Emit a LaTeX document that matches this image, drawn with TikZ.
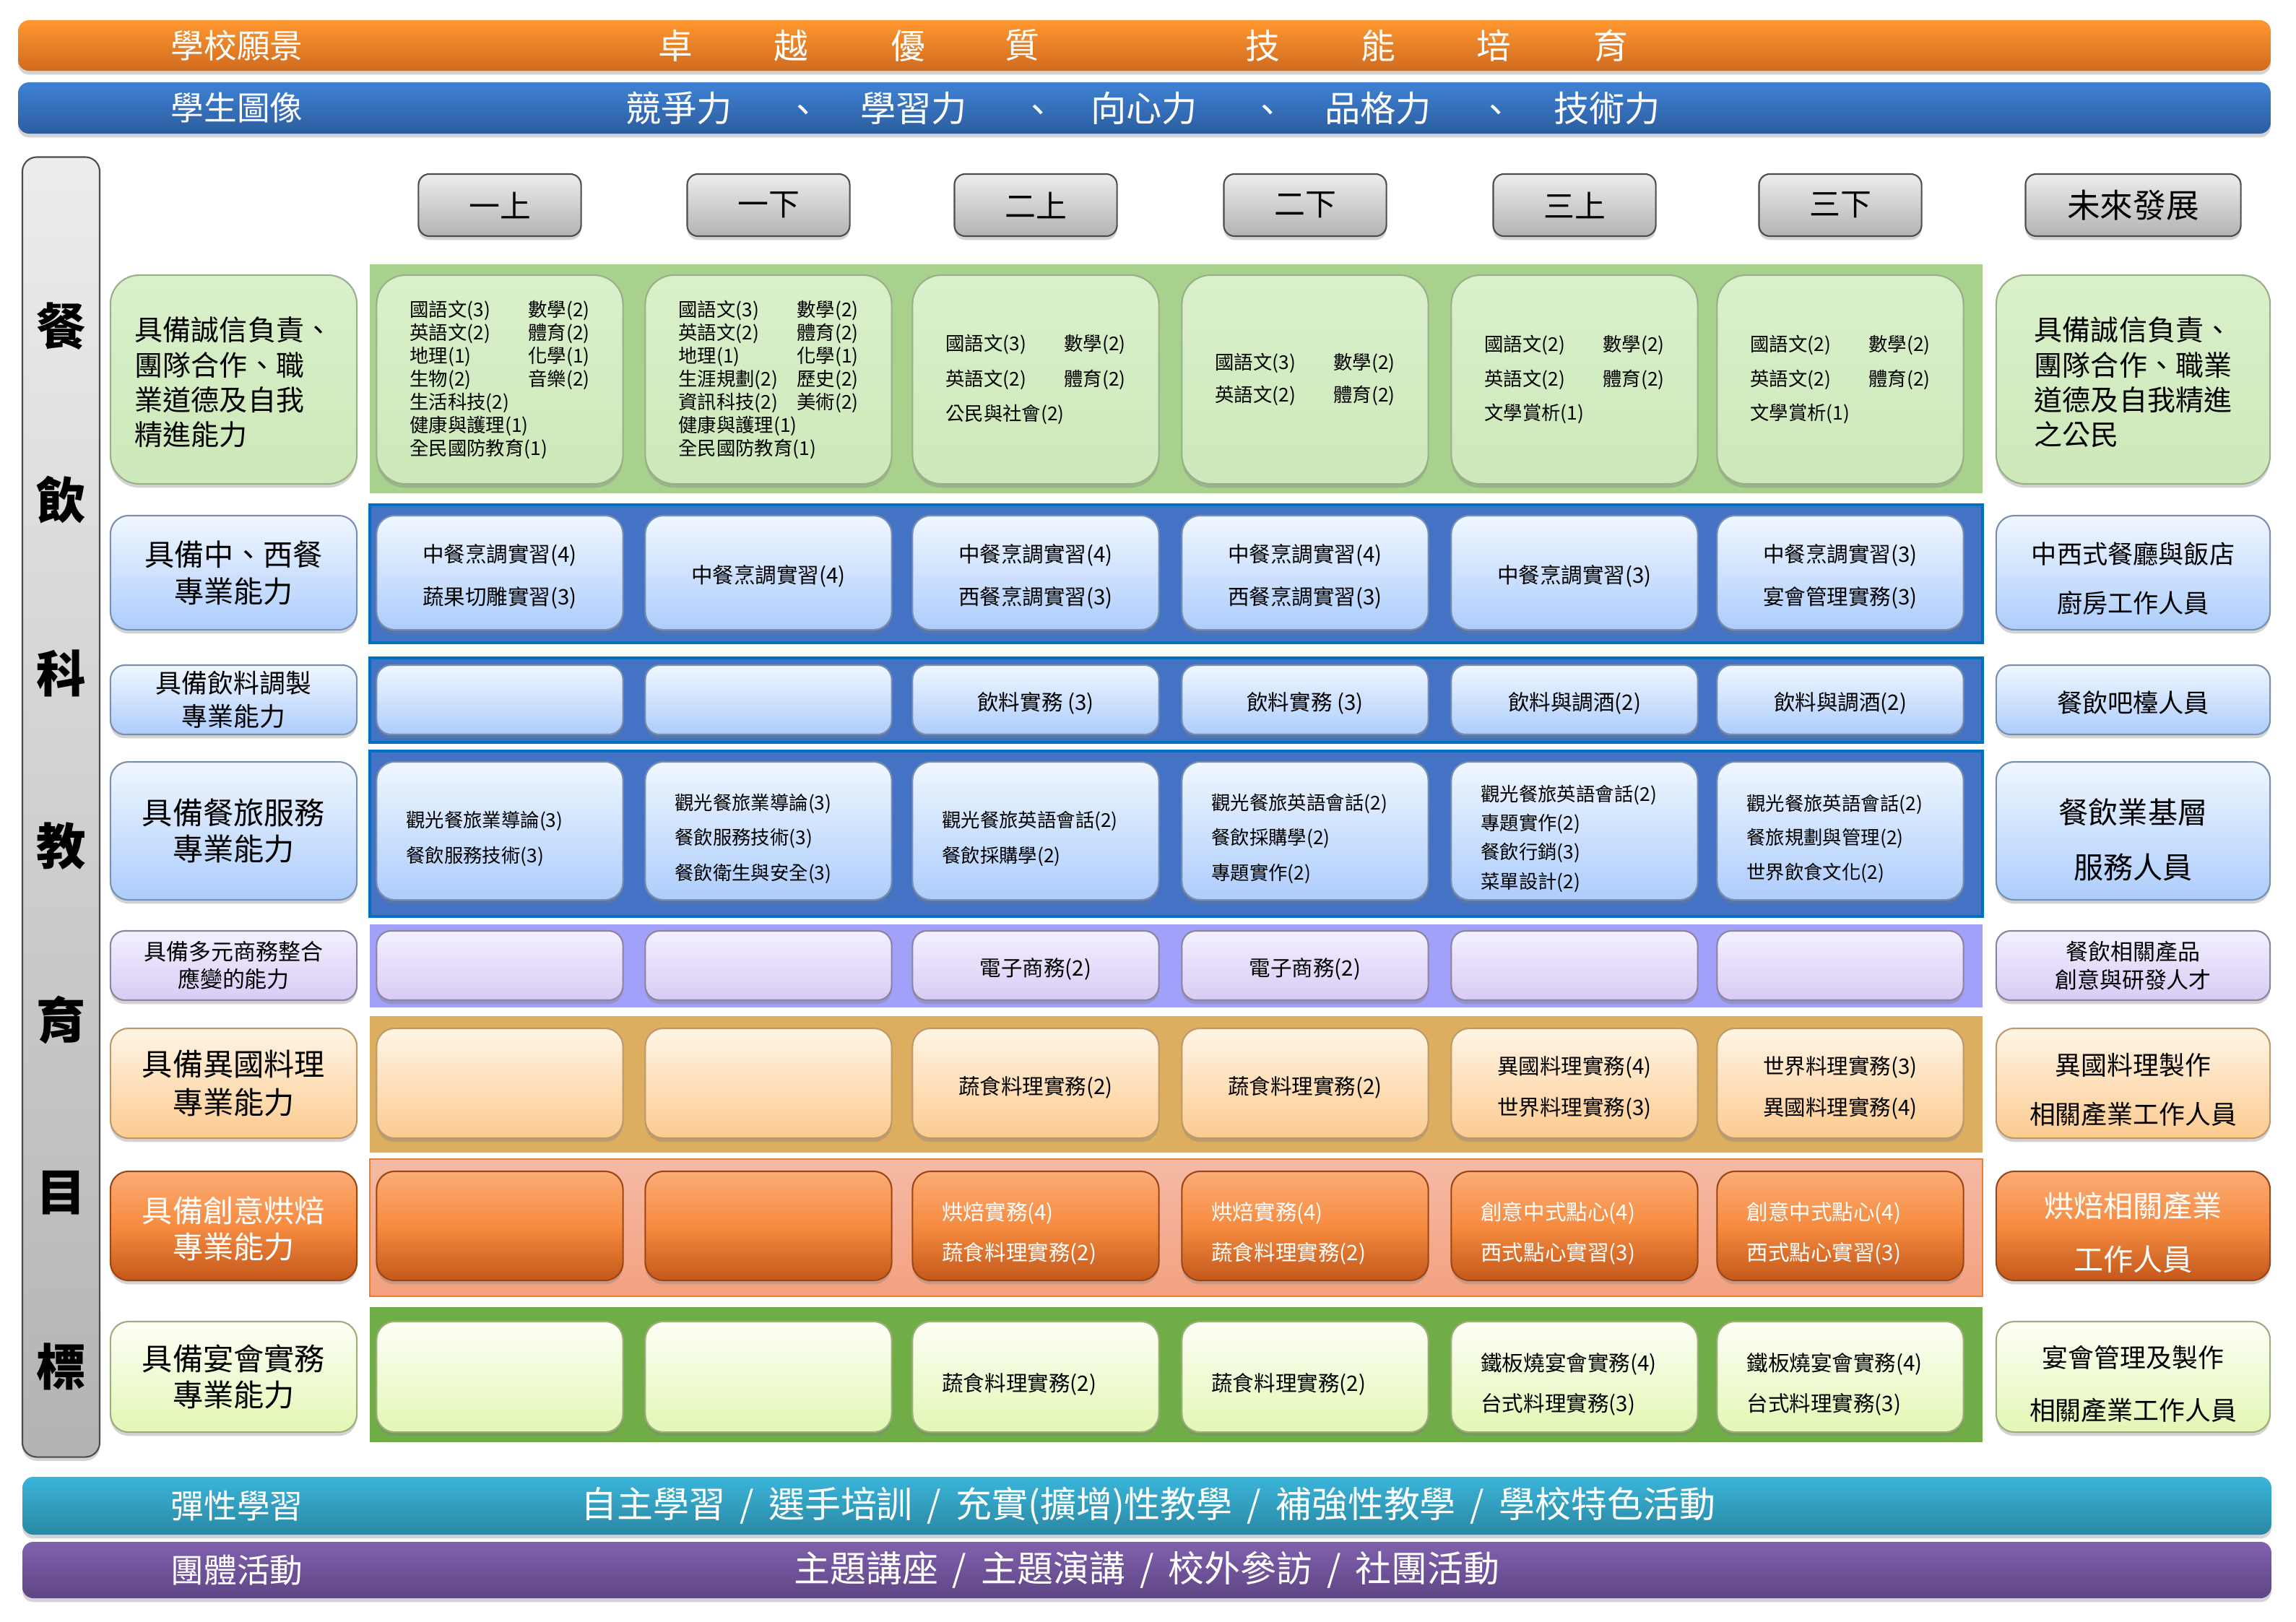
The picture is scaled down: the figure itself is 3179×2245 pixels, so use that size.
\documentclass[tikz,border=0pt]{standalone}
\usepackage{fontspec}
\setmainfont{Noto Sans CJK TC}
\usetikzlibrary{shadows}

% colours of bars and rows
\definecolor{visionA}{HTML}{FF972F}
\definecolor{visionB}{HTML}{D06B1F}
\definecolor{portraitA}{HTML}{3F82D5}
\definecolor{portraitB}{HTML}{2C5D9F}
\definecolor{flexA}{HTML}{3AB5DA}
\definecolor{flexB}{HTML}{2A88A3}
\definecolor{groupA}{HTML}{8061AE}
\definecolor{groupB}{HTML}{5F4585}
\definecolor{greyA}{HTML}{EDEDED}
\definecolor{greyB}{HTML}{B3B3B3}
\definecolor{basicbg}{HTML}{A9D18E}
\definecolor{basicA}{HTML}{DAF0CB}
\definecolor{basicB}{HTML}{CDE8B9}
\definecolor{skybg}{HTML}{4472C4}
\definecolor{skyline}{HTML}{0070C0}
\definecolor{skyA}{HTML}{F0F7FF}
\definecolor{skyB}{HTML}{ADCDFC}
\definecolor{lilacbg}{HTML}{A1A1F9}
\definecolor{lilacA}{HTML}{F4F0FF}
\definecolor{lilacB}{HTML}{D7CBF5}
\definecolor{tanbg}{HTML}{DEAE60}
\definecolor{peachA}{HTML}{FFF5E5}
\definecolor{peachB}{HTML}{FCCB90}
\definecolor{salmonA}{HTML}{F5BAA5}
\definecolor{salmonB}{HTML}{F4A17F}
\definecolor{salmonline}{HTML}{ED7D31}
\definecolor{bakeA}{HTML}{FBAC76}
\definecolor{bakeM}{HTML}{F68B40}
\definecolor{bakeB}{HTML}{C3581A}
\definecolor{greenbg}{HTML}{70AD47}
\definecolor{limeA}{HTML}{FEFFF7}
\definecolor{limeB}{HTML}{E2F7B4}

\newcommand\fs[2]{\fontsize{#1}{#2}\selectfont}
\newcommand\subj[2]{\makebox[1.64cm][l]{#1}#2}
\newcommand\slashsep{\hspace{0.4em}/\hspace{0.4em}}
\newcommand\lift[1]{\rule{0pt}{#1}}

\tikzset{
  tile/.style={rectangle, inner sep=0pt, rounded corners=0.25cm, line width=0.6pt,
    drop shadow={shadow xshift=0pt, shadow yshift=-1.5pt, opacity=0.35}},
  cell/.style={tile, minimum width=3.41cm},
  goal/.style={tile, minimum width=3.41cm, align=center},
  job/.style={tile, minimum width=3.79cm, align=center},
  bar/.style={tile, rounded corners=0.15cm, minimum width=31.17cm},
  bartext/.style={text=white},
  grade/.style={tile, rounded corners=0.15cm, minimum height=0.86cm, minimum width=2.25cm,
    top color=greyA, bottom color=greyB, draw=black!70, font=\fs{12.2pt}{13pt}},
  basiccell/.style={top color=basicA, bottom color=basicB, draw=basicB!75!black, rounded corners=0.4cm},
  skycell/.style={top color=skyA, bottom color=skyB, draw=skyB!70!black},
  lilaccell/.style={top color=lilacA, bottom color=lilacB, draw=lilacB!65!black},
  peachcell/.style={top color=peachA, bottom color=peachB, draw=peachB!75!black},
  bakecell/.style={top color=bakeA, bottom color=bakeB, middle color=bakeM, draw=bakeB!80!black, text=white},
  limecell/.style={top color=limeA, bottom color=limeB, draw=limeB!70!black}
}

\begin{document}
\begin{tikzpicture}[x=0.01cm, y=-0.01cm]
    \useasboundingbox (0,0) rectangle (3179,2245);

    % vision and portrait bars
    \node[bar, top color=visionA, bottom color=visionB, minimum height=0.70cm] (visionbar) at (1584.5,63) {};
    \node[bartext, font=\fs{13pt}{14pt}] (vision) at (328,63) {學校願景};
    \foreach \x/\ch [count=\i] in {935/卓,1095/越,1257/優,1415/質,1748/技,1908/能,2068/培,2230/育}{
        \node[bartext, font=\fs{13.6pt}{14pt}] (v\i) at (\x,63) {\ch};
    }
    \node[bar, top color=portraitA, bottom color=portraitB, minimum height=0.71cm] (portraitbar) at (1584.5,149.5) {};
    \node[bartext, font=\fs{13pt}{14pt}] (portrait) at (328,149.5) {學生圖像};
    \foreach \x/\w [count=\i] in {940/競爭力,1265/學習力,1584/向心力,1908/品格力,2225/技術力}{
        \node[bartext, font=\fs{14pt}{15pt}] (p\i) at (\x,149.5) {\w};
    }
    \foreach \x [count=\i] in {1112,1437,1755,2071}{
        \node[bartext, font=\fs{14pt}{15pt}] (comma\i) at (\x,158) {、};
    }

    % aim column
    \node[tile, rounded corners=0.2cm, minimum width=1.07cm, minimum height=17.99cm,
        top color=greyA, bottom color=greyB, draw=black!70] (aimbar) at (84.5,1117.5) {};
    \foreach \ch [count=\i] in {餐,飲,科,教,育,目,標}{
        \node[font=\fs{19.5pt}{20pt}\bfseries] (aim\i) at (84.5,{452+240*(\i-1)}) {\ch};
    }

    % grade heads
    \foreach \x/\t [count=\i] in {692/一上,1064/一下,1434/二上,1807/二下,2180/三上,2548/三下}{
        \node[grade] (g\i) at (\x,284) {\t};
    }
    \node[grade, minimum width=2.98cm, font=\fs{13pt}{14pt}] (future) at (2953.5,284) {未來發展};

    % row heights
    \foreach \y [count=\i] in {525.5,793,969,1150.5,1337,1500,1697.5,1906.5}
        \coordinate (r\i) at (0,\y);

    % row backgrounds
    \fill[basicbg] (512,366) rectangle (2745,683);
    \filldraw[fill=skybg, draw=skyline, line width=1.2pt] (512,699) rectangle (2745,890);
    \filldraw[fill=skybg, draw=skyline, line width=1.2pt] (512,911) rectangle (2745,1028);
    \filldraw[fill=skybg, draw=skyline, line width=1.2pt] (512,1040) rectangle (2745,1269);
    \fill[lilacbg] (512,1280) rectangle (2745,1395);
    \fill[tanbg] (512,1407) rectangle (2745,1596);
    \shade[top color=salmonA, bottom color=salmonB] (512,1605) rectangle (2745,1795);
    \draw[salmonline, line width=0.6pt] (512,1605) rectangle (2745,1795);
    \fill[greenbg] (512,1810) rectangle (2745,1997);

    % row 1: general subjects
    \node[goal, basiccell, minimum height=2.89cm, align=left, font=\fs{11.1pt}{13.7pt}] (basicgoal) at (323.5,525.5)
        {\lift{11.6pt}具備誠信負責、\\團隊合作、職\\業道德及自我\\精進能力};
    \foreach \i/\sk/\t in {
        1/9.1pt/{\subj{國語文(3)}{數學(2)}\\\subj{英語文(2)}{體育(2)}\\\subj{地理(1)}{化學(1)}\\\subj{生物(2)}{音樂(2)}\\生活科技(2)\\健康與護理(1)\\全民國防教育(1)},
        2/9.1pt/{\subj{國語文(3)}{數學(2)}\\\subj{英語文(2)}{體育(2)}\\\subj{地理(1)}{化學(1)}\\\subj{生涯規劃(2)}{歷史(2)}\\\subj{資訊科技(2)}{美術(2)}\\健康與護理(1)\\全民國防教育(1)},
        3/13.7pt/{\subj{國語文(3)}{數學(2)}\\\subj{英語文(2)}{體育(2)}\\公民與社會(2)},
        4/13pt/{\subj{國語文(3)}{數學(2)}\\\subj{英語文(2)}{體育(2)}},
        5/13.4pt/{\subj{國語文(2)}{數學(2)}\\\subj{英語文(2)}{體育(2)}\\文學賞析(1)},
        6/13.4pt/{\subj{國語文(2)}{數學(2)}\\\subj{英語文(2)}{體育(2)}\\文學賞析(1)}}{
        \node[cell, basiccell, minimum height=2.89cm, align=left, font=\fs{7.5pt}{\sk}] (basic\i) at (g\i |- r1) {\t};
    }
    \node[job, basiccell, minimum height=2.89cm, align=left, font=\fs{11.1pt}{13.7pt}] (basicjob) at (2953.5,525.5)
        {\lift{11.6pt}具備誠信負責、\\團隊合作、職業\\道德及自我精進\\之公民};

    % row 2: chinese and western cooking
    \node[goal, skycell, minimum height=1.58cm, font=\fs{11.7pt}{14.5pt}] (chefgoal) at (323.5,793) {具備中、西餐\\專業能力};
    \foreach \i/\t in {1/{中餐烹調實習(4)\\蔬果切雕實習(3)},2/{中餐烹調實習(4)},3/{中餐烹調實習(4)\\西餐烹調實習(3)},
        4/{中餐烹調實習(4)\\西餐烹調實習(3)},5/{中餐烹調實習(3)},6/{中餐烹調實習(3)\\宴會管理實務(3)}}{
        \node[cell, skycell, minimum height=1.58cm, align=center, font=\fs{8.4pt}{16.8pt}] (chef\i) at (g\i |- r2) {\lift{10pt}\t};
    }
    \node[job, skycell, minimum height=1.58cm, font=\fs{10pt}{19.3pt}] (chefjob) at (2953.5,793) {\lift{13pt}中西式餐廳與飯店\\廚房工作人員};

    % row 3: drinks
    \node[goal, skycell, rounded corners=0.2cm, minimum height=0.96cm, font=\fs{10.2pt}{13.1pt}] (drinkgoal) at (323.5,969) {具備飲料調製\\專業能力};
    \foreach \i/\t in {1/{},2/{},3/{飲料實務 (3)},4/{飲料實務 (3)},5/{飲料與調酒(2)},6/{飲料與調酒(2)}}{
        \node[cell, skycell, rounded corners=0.2cm, minimum height=0.96cm, font=\fs{8.4pt}{10pt}] (drink\i) at (g\i |- r3) {\lift{10pt}\t};
    }
    \node[job, skycell, rounded corners=0.2cm, minimum height=0.96cm, font=\fs{10pt}{12pt}] (drinkjob) at (2953.5,969) {\lift{11pt}餐飲吧檯人員};

    % row 4: service
    \node[goal, skycell, minimum height=1.91cm, font=\fs{12pt}{14.2pt}] (servegoal) at (323.5,1150.5) {具備餐旅服務\\專業能力};
    \foreach \i/\sk/\t in {1/13.7pt/{觀光餐旅業導論(3)\\餐飲服務技術(3)},2/13.7pt/{觀光餐旅業導論(3)\\餐飲服務技術(3)\\餐飲衛生與安全(3)},
        3/13.7pt/{觀光餐旅英語會話(2)\\餐飲採購學(2)},4/13.7pt/{觀光餐旅英語會話(2)\\餐飲採購學(2)\\專題實作(2)},
        5/11.4pt/{觀光餐旅英語會話(2)\\專題實作(2)\\餐飲行銷(3)\\菜單設計(2)},6/13.4pt/{觀光餐旅英語會話(2)\\餐旅規劃與管理(2)\\世界飲食文化(2)}}{
        \node[cell, skycell, minimum height=1.91cm, text width=2.59cm, align=left, font=\fs{7.5pt}{\sk}] (serve\i) at (g\i |- r4) {\lift{12.5pt}\t};
    }
    \node[job, skycell, minimum height=1.91cm, font=\fs{11.7pt}{21.6pt}] (servejob) at (2953.5,1150.5) {\lift{17pt}餐飲業基層\\服務人員};

    % row 5: e-commerce
    \node[goal, lilaccell, rounded corners=0.2cm, minimum height=0.96cm, font=\fs{8.8pt}{10.8pt}] (ecomgoal) at (323.5,1337) {具備多元商務整合\\應變的能力};
    \foreach \i/\t in {1/{},2/{},3/{電子商務(2)},4/{電子商務(2)},5/{},6/{}}{
        \node[cell, lilaccell, rounded corners=0.2cm, minimum height=0.96cm, font=\fs{8.4pt}{10pt}] (ecom\i) at (g\i |- r5) {\lift{10pt}\t};
    }
    \node[job, lilaccell, rounded corners=0.2cm, minimum height=0.96cm, font=\fs{8.8pt}{11pt}] (ecomjob) at (2953.5,1337) {餐飲相關產品\\創意與研發人才};

    % row 6: foreign cuisine
    \node[goal, peachcell, minimum height=1.52cm, font=\fs{12pt}{14.8pt}] (worldgoal) at (323.5,1500) {具備異國料理\\專業能力};
    \foreach \i/\t in {1/{},2/{},3/{蔬食料理實務(2)},4/{蔬食料理實務(2)},5/{異國料理實務(4)\\世界料理實務(3)},6/{世界料理實務(3)\\異國料理實務(4)}}{
        \node[cell, peachcell, minimum height=1.52cm, align=center, font=\fs{8.4pt}{16.2pt}] (world\i) at (g\i |- r6) {\lift{10.5pt}\t};
    }
    \node[job, peachcell, minimum height=1.52cm, font=\fs{10.2pt}{19.3pt}] (worldjob) at (2953.5,1500) {\lift{13.8pt}異國料理製作\\相關產業工作人員};

    % row 7: baking
    \node[goal, bakecell, minimum height=1.51cm, font=\fs{12pt}{14.2pt}] (bakegoal) at (323.5,1697.5) {\lift{12.5pt}具備創意烘焙\\專業能力};
    \foreach \i/\t in {1/{},2/{},3/{烘焙實務(4)\\蔬食料理實務(2)},4/{烘焙實務(4)\\蔬食料理實務(2)},5/{創意中式點心(4)\\西式點心實習(3)},6/{創意中式點心(4)\\西式點心實習(3)}}{
        \node[cell, bakecell, minimum height=1.51cm, text width=2.59cm, align=left, font=\fs{8.4pt}{16.2pt}] (bake\i) at (g\i |- r7) {\lift{13pt}\t};
    }
    \node[job, bakecell, minimum height=1.51cm, font=\fs{11.7pt}{21pt}] (bakejob) at (2953.5,1697.5) {\lift{15pt}烘焙相關產業\\工作人員};

    % row 8: banquet
    \node[goal, limecell, minimum height=1.53cm, font=\fs{12pt}{14.2pt}] (banquetgoal) at (323.5,1906.5) {具備宴會實務\\專業能力};
    \foreach \i/\t in {1/{},2/{},3/{蔬食料理實務(2)},4/{蔬食料理實務(2)},5/{鐵板燒宴會實務(4)\\台式料理實務(3)},6/{鐵板燒宴會實務(4)\\台式料理實務(3)}}{
        \node[cell, limecell, minimum height=1.53cm, text width=2.59cm, align=left, font=\fs{8.4pt}{16.2pt}] (banquet\i) at (g\i |- r8) {\lift{13pt}\t};
    }
    \node[job, limecell, minimum height=1.53cm, font=\fs{10.2pt}{21pt}] (banquetjob) at (2953.5,1906.5) {\lift{14.3pt}宴會管理及製作\\相關產業工作人員};

    % flexible learning and group activity bars
    \node[bar, minimum width=31.12cm, top color=flexA, bottom color=flexB, minimum height=0.80cm] (flexbar) at (1588,2085) {};
    \node[bartext, font=\fs{13pt}{14pt}] (flex) at (328,2085) {彈性學習};
    \node[bartext, font=\fs{14.2pt}{15pt}] (flexitems) at (1590,2085)
        {自主學習\slashsep 選手培訓\slashsep 充實(擴增)性教學\slashsep 補強性教學\slashsep 學校特色活動};
    \node[bar, minimum width=31.12cm, top color=groupA, bottom color=groupB, minimum height=0.78cm] (groupbar) at (1588,2174) {};
    \node[bartext, font=\fs{13pt}{14pt}] (group) at (328,2174) {團體活動};
    \node[bartext, font=\fs{14.2pt}{15pt}] (groupitems) at (1588,2174)
        {主題講座\slashsep 主題演講\slashsep 校外參訪\slashsep 社團活動};
\end{tikzpicture}
\end{document}
